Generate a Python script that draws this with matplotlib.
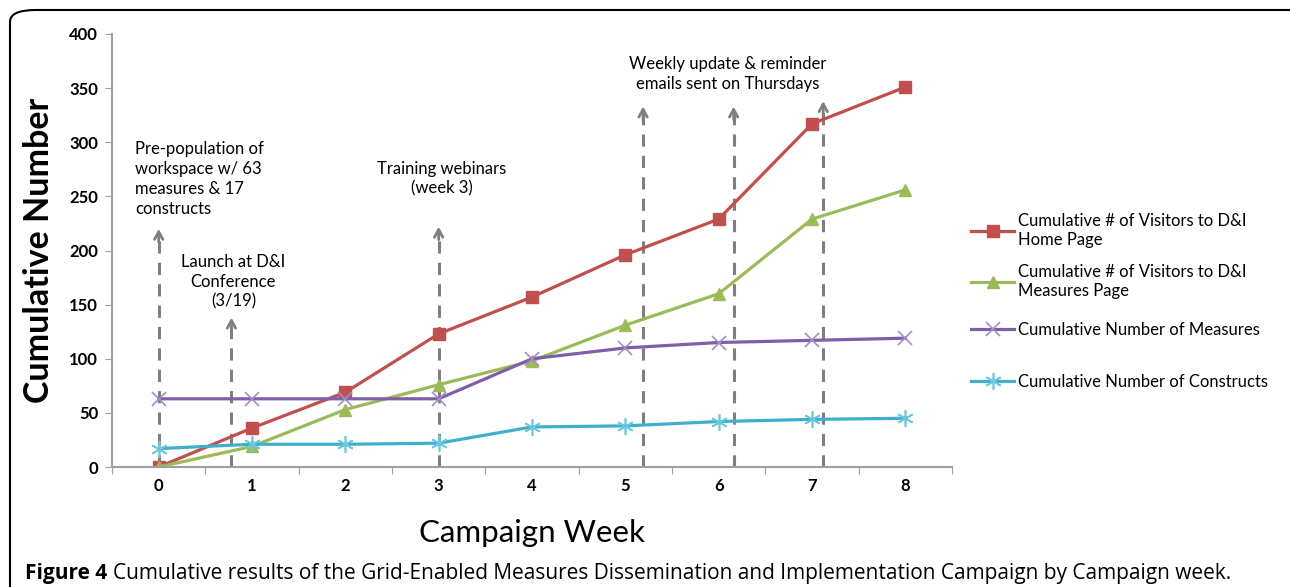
import matplotlib
matplotlib.use("Agg")
import matplotlib.pyplot as plt
from matplotlib.patches import FancyBboxPatch

plt.rcParams['font.family'] = ['Lato', 'DejaVu Sans']

weeks = [0, 1, 2, 3, 4, 5, 6, 7, 8]
home_page = [0, 36, 69, 123, 157, 196, 229, 317, 351]
measures_page = [0, 19, 53, 76, 98, 131, 160, 229, 256]
n_measures = [63, 63, 63, 63, 100, 110, 115, 117, 119]
n_constructs = [17, 21, 21, 22, 37, 38, 42, 44, 45]

series_names = ["Cumulative # of Visitors to D&I\nHome Page",
                "Cumulative # of Visitors to D&I\nMeasures Page",
                "Cumulative Number of Measures",
                "Cumulative Number of Constructs"]

# event arrows: week position, arrow top value
event_x = [0, 0.78, 3, 5.19, 6.16, 7.12]
event_top = [220, 138, 222, 333, 333, 338]

fig = plt.figure(figsize=(12.9, 5.87), dpi=100)

# rounded frame around figure
frame = FancyBboxPatch((10/1290, -0.05), 1.2, 1 - 10/587 + 0.05,
                       boxstyle="round,pad=0,rounding_size=0.02",
                       transform=fig.transFigure, fill=False,
                       edgecolor='black', linewidth=1.5)
fig.patches.append(frame)

ax = fig.add_axes([112/1290, 1 - 467/587, (952-112)/1290, (467-34)/587])

# dashed event lines with open arrow heads
ax.vlines(event_x, 0, [t - 3 for t in event_top], colors='#7f7f7f', lw=2.2,
          linestyles=(0, (4, 3)))
for x, top in zip(event_x, event_top):
    ax.annotate("", xy=(x, top), xytext=(x, top - 12),
                arrowprops=dict(arrowstyle="->,head_length=0.55,head_width=0.3",
                                color='#7f7f7f', lw=2, shrinkA=0, shrinkB=0))

ax.plot(weeks, home_page, color='#C0504D', lw=2.3, marker='s', ms=9,
        label=series_names[0])
ax.plot(weeks, measures_page, color='#9BBB59', lw=2.3, marker='^', ms=9,
        label=series_names[1])
ax.plot(weeks, n_measures, color='#7F5FA8', lw=2.3, marker='x', ms=10, mew=1.2,
        mec='#A58CC8', label=series_names[2])
ax.plot(weeks, n_constructs, color='#3FAFCB', lw=2.3, marker=(6, 2, 0), ms=12,
        mew=1.2, mec='#6CC6DC', label=series_names[3])

ax.set_xlim(-0.5, 8.5)
ax.set_ylim(0, 400)
ax.set_yticks(range(0, 401, 50))
ax.set_xticks([w - 0.5 for w in weeks] + [8.5])
ax.set_xticklabels([])
ax.set_xticks(weeks, minor=True)
ax.set_xticklabels([str(w) for w in weeks], minor=True)
ax.tick_params(axis='x', which='minor', length=0, pad=8)
ax.tick_params(axis='x', which='major', length=5, color='#a0a0a0')
ax.tick_params(axis='y', length=5, color='#a0a0a0', pad=5)
for lab in ax.get_yticklabels() + ax.get_xticklabels(minor=True):
    lab.set_fontsize(12)
    lab.set_fontweight('bold')
for s in ['top', 'right']:
    ax.spines[s].set_visible(False)
for s in ['left', 'bottom']:
    ax.spines[s].set_color('#a0a0a0')
    ax.spines[s].set_linewidth(1.5)

ax.set_ylabel("Cumulative Number", fontsize=24.5, fontweight='bold', labelpad=10)
ax.set_xlabel("Campaign Week", fontsize=22.5, labelpad=18)

ann_kw = dict(fontsize=12, va='top', linespacing=1.3)
ax.text(-0.25, 301, "Pre-population of\nworkspace w/ 63\nmeasures & 17\nconstructs",
        ha='left', **ann_kw)
ax.text(0.8, 197, "Launch at D&I\nConference\n(3/19)", ha='center', **ann_kw)
ax.text(3.03, 283, "Training webinars\n(week 3)", ha='center', **ann_kw)
ax.text(6.1, 380, "Weekly update & reminder\nemails sent on Thursdays", ha='center', **ann_kw)

# legend entries placed one by one, as in the original's uneven spacing
lines = ax.get_lines()
legend_tops = [213, 264, 322, 374]
for ln, name, top in zip(lines, series_names, legend_tops):
    fig.legend([ln], [name], loc='upper left',
               bbox_to_anchor=(971/1290, 1 - top/587),
               bbox_transform=fig.transFigure, frameon=False, fontsize=12,
               handlelength=2.6, handletextpad=0.2, borderaxespad=0,
               borderpad=0)

cap_font = ['Open Sans', 'DejaVu Sans']
t1 = fig.text(25/1290, 1 - 573/587, "Figure 4", fontsize=15, fontweight='bold',
              family=cap_font, va='center')
fig.canvas.draw()
bb = t1.get_window_extent()
fig.text((bb.x1 + 6)/1290, 1 - 573/587,
         "Cumulative results of the Grid-Enabled Measures Dissemination and Implementation Campaign by Campaign week.",
         fontsize=15, family=cap_font, va='center')

fig.savefig("out.png", dpi=100)
